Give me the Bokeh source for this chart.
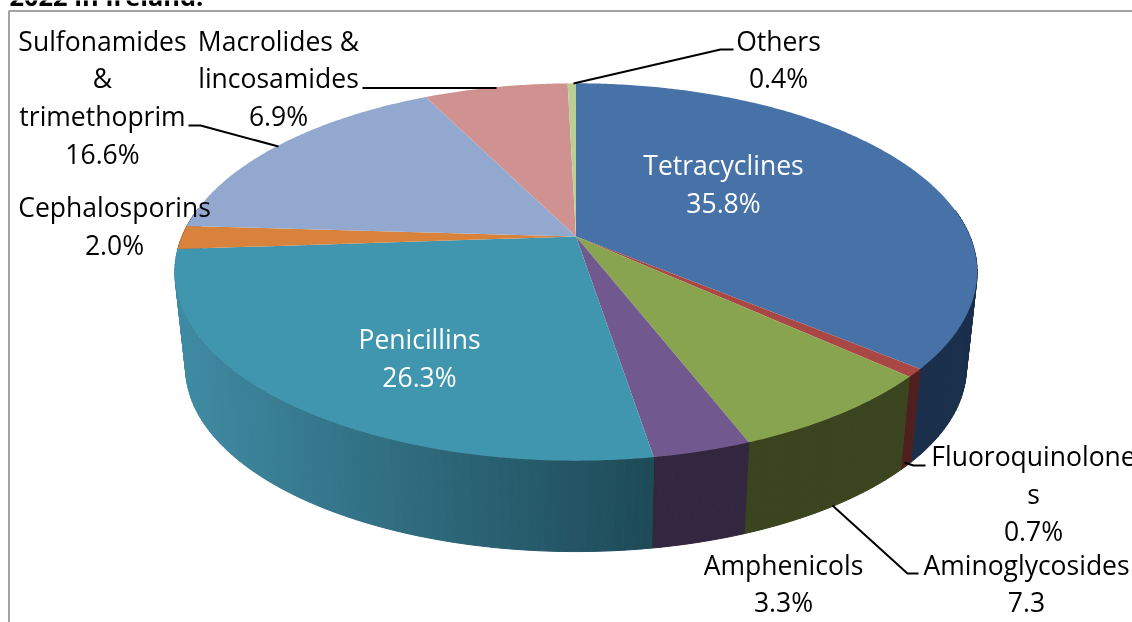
import math
from bokeh.core.properties import value
from bokeh.embed import file_html
from bokeh.models import Range1d
from bokeh.plotting import figure
from bokeh.resources import INLINE

# data, clockwise from 12 o'clock
categories = ["Tetracyclines", "Fluoroquinolones", "Aminoglycosides", "Amphenicols", "Penicillins",
              "Cephalosporins", "Sulfonamides & trimethoprim", "Macrolides & lincosamides", "Others"]
shares = [35.8, 0.7, 7.3, 3.3, 26.3, 2.0, 16.6, 6.9, 0.4]
top_colors = ["#4672A8", "#A94744", "#88A44E", "#71588F", "#4096AE", "#D9823C", "#93A8CF", "#D09291", "#B9CF96"]
side_left = ["#1A2F4B", "#4F1F1E", "#3A441F", "#33263F", "#3F8BA3", "#8A5020", "#5E6F8F", "#8A5F5E", "#77885F"]
side_right = ["#1A2F4B", "#4F1F1E", "#3A441F", "#33263F", "#1E4A57", "#8A5020", "#5E6F8F", "#8A5F5E", "#77885F"]

labels = [
    (["Tetracyclines", "35.8%"], 723, 164.5, "white"),
    (["Penicillins", "26.3%"], 419, 338.5, "white"),
    (["Sulfonamides", "&", "trimethoprim", "16.6%"], 102, 40, "black"),
    (["Macrolides &", "lincosamides", "6.9%"], 278, 40, "black"),
    (["Cephalosporins", "2.0%"], 114, 206.5, "black"),
    (["Others", "0.4%"], 778, 40, "black"),
    (["Fluoroquinolone", "s", "0.7%"], 1033, 455.5, "black"),
    (["Aminoglycosides", "7.3"], 1026, 564, "black"),
    (["Amphenicols", "3.3%"], 783, 564, "black"),
]
leaders = [
    ([573, 720, 733], [83, 49, 49]),
    ([496, 362], [87.5, 87.5]),
    ([188, 200, 278], [125, 125, 146]),
    ([904, 913, 925], [462, 465, 465]),
    ([832, 907, 918], [505, 573, 573]),
]
frame_x = [8.5, 8.5, 1132]
frame_y = [622, 10.5, 10.5]
title_text = "2022 in Ireland."

FONT = "Open Sans"
FONT_SIZE = "26.5px"
LINE_H = 37.7

# projection of the tilted disc
CX, K, S, R, APEX = 575.5, 0.188, 182.0, 394.0, 236.0
SCALE_B, APEX_B = 0.973, 333.0


def rim(theta, bottom=False):
    u, v = math.sin(theta), math.cos(theta)
    d = 1 + K * v
    sc = SCALE_B if bottom else 1.0
    ap = APEX_B if bottom else APEX
    return CX + sc * R * u / d, ap - sc * S * v / d


def mix(a, b, t):
    ca = [int(a[i:i + 2], 16) for i in (1, 3, 5)]
    cb = [int(b[i:i + 2], 16) for i in (1, 3, 5)]
    return "#%02x%02x%02x" % tuple(round(x + (y - x) * t) for x, y in zip(ca, cb))


p = figure(width=1132, height=622, output_backend="svg", toolbar_location=None,
           x_range=Range1d(0, 1132), y_range=Range1d(622, 0), min_border=0,
           outline_line_color=None, background_fill_color="white")
p.margin = 0
p.styles = {"position": "fixed", "left": "0px", "top": "0px"}
p.xaxis.visible = False
p.yaxis.visible = False
p.grid.visible = False

total = sum(shares)
edges = [0.0]
for s in shares:
    edges.append(edges[-1] + s / total * 2 * math.pi)

# side wall, built as thin quads, drawn from back to front
quads = []
for i, s in enumerate(shares):
    a0, a1 = edges[i], edges[i + 1]
    n = max(2, int((a1 - a0) / 0.02))
    x_lo, x_hi = rim(a1)[0], rim(a0)[0]
    for j in range(n):
        t0 = a0 + (a1 - a0) * j / n
        t1 = a0 + (a1 - a0) * (j + 1) / n
        mid = (t0 + t1) / 2
        if math.cos(mid) > 0.15:
            continue
        x0, y0 = rim(t0)
        x1, y1 = rim(t1)
        x2, y2 = rim(t1, True)
        x3, y3 = rim(t0, True)
        f = (rim(mid)[0] - x_lo) / (x_hi - x_lo) if x_hi != x_lo else 0
        c = mix(side_left[i], side_right[i], max(0.0, min(1.0, f)))
        quads.append((-math.cos(mid), [x0, x1, x2, x3], [y0, y1, y2, y3], c))
quads.sort(key=lambda q: q[0])
p.patches([q[1] for q in quads], [q[2] for q in quads],
          fill_color=[q[3] for q in quads], line_color=[q[3] for q in quads], line_width=1)

# top face
for i, s in enumerate(shares):
    a0, a1 = edges[i], edges[i + 1]
    n = max(2, int((a1 - a0) / 0.01))
    pts = [rim(a0 + (a1 - a0) * j / n) for j in range(n + 1)]
    p.patch([CX] + [q[0] for q in pts], [APEX] + [q[1] for q in pts],
            fill_color=top_colors[i], line_color=None)

# frame
p.line(frame_x, frame_y, line_color="#868686", line_width=1.5)

# leader lines
for lx, ly in leaders:
    p.line(lx, ly, line_color="black", line_width=2)

# labels
for lines, x, y0, col in labels:
    p.text([x] * len(lines), [y0 + k * LINE_H for k in range(len(lines))], text=lines,
           text_align="center", text_baseline="middle", text_color=col,
           text_font=value(FONT), text_font_size=FONT_SIZE)

p.text([9], [-5], text=[title_text], text_align="left", text_baseline="alphabetic",
       text_color="black", text_font=value(FONT), text_font_size="25.4px", text_font_style="bold")

open("out.html", "w").write(file_html(p, INLINE))
